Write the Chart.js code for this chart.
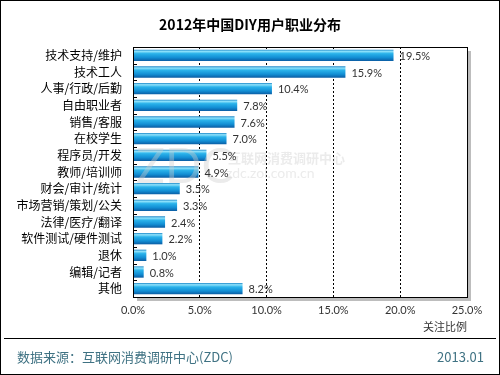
<!DOCTYPE html>
<html>
<head>
<meta charset="utf-8">
<script src="https://cdn.jsdelivr.net/npm/chart.js@4.4.1/dist/chart.umd.min.js"></script>
<style>
  html, body { margin: 0; padding: 0; background: #fff; }
  #wrap { position: relative; width: 500px; height: 375px; }
</style>
</head>
<body>
<div id="wrap"><canvas id="chart" width="500" height="375"></canvas></div>
<script>
const categories = ['技术支持/维护', '技术工人', '人事/行政/后勤', '自由职业者', '销售/客服', '在校学生',
  '程序员/开发', '教师/培训师', '财会/审计/统计', '市场营销/策划/公关', '法律/医疗/翻译',
  '软件测试/硬件测试', '退休', '编辑/记者', '其他'];
const shares = [19.5, 15.9, 10.4, 7.8, 7.6, 7.0, 5.5, 4.9, 3.5, 3.3, 2.4, 2.2, 1.0, 0.8, 8.2];
const xTicks = [0, 5, 10, 15, 20, 25];

const FONT = "Lato, 'Noto Sans CJK SC', sans-serif";
const CJK = "'Noto Sans CJK SC', sans-serif";
const BAR_PCT = 0.68;

// vertical gradient per bar, from the y scale
function barFill(ctx) {
  const chart = ctx.chart, sc = chart.scales.y;
  if (!sc || !chart.chartArea) return '#1a9ad6';
  const h = sc.height / categories.length * BAR_PCT;
  const top = sc.getPixelForValue(ctx.dataIndex) - h / 2;
  const g = chart.ctx.createLinearGradient(0, top, 0, top + h);
  g.addColorStop(0, '#1a86c8');
  g.addColorStop(0.15, '#8fe2fb');
  g.addColorStop(0.35, '#2ab2ea');
  g.addColorStop(0.7, '#128ed4');
  g.addColorStop(1, '#0a5ca3');
  return g;
}

const decor = {
  id: 'decor',
  beforeDraw(chart) {
    const c = chart.ctx, a = chart.chartArea;
    c.save();
    c.fillStyle = '#fff';
    c.fillRect(0, 0, 500, 375);
    c.fillStyle = '#bdbdbd';
    c.fillRect(a.left + 4, a.top + 4, a.right - a.left, a.bottom - a.top);
    c.fillStyle = '#fff';
    c.fillRect(a.left, a.top, a.right - a.left, a.bottom - a.top);
    c.restore();
  },
  afterDatasetsDraw(chart) {
    const c = chart.ctx, a = chart.chartArea, sc = chart.scales.y;
    c.save();
    // watermark
    c.fillStyle = 'rgba(205,205,205,0.4)';
    c.textBaseline = 'middle';
    c.font = '48px ' + FONT;
    c.fillText('ZDC', 136, 168);
    c.font = 'bold 13px ' + CJK;
    c.fillText('互联网消费调研中心', 228, 158);
    c.font = '14px ' + FONT;
    c.fillText('zdc.zol.com.cn', 226, 173);
    // value labels
    c.font = '11px ' + FONT;
    c.fillStyle = '#333';
    chart.getDatasetMeta(0).data.forEach((bar, i) => {
      c.fillText(shares[i].toFixed(1) + '%', bar.x + 6, bar.y + 1);
    });
    // inside ticks on the category boundaries
    c.strokeStyle = '#000';
    c.lineWidth = 1;
    const step = sc.height / categories.length;
    c.beginPath();
    for (let i = 1; i < categories.length; i++) {
      const y = Math.round(a.top + step * i) + 0.5;
      c.moveTo(a.left, y);
      c.lineTo(a.left + 4, y);
    }
    c.stroke();
    c.strokeRect(a.left + 0.5, a.top + 0.5, a.right - a.left, a.bottom - a.top);
    c.restore();
  },
  afterDraw(chart) {
    const c = chart.ctx;
    c.save();
    c.strokeStyle = '#000';
    c.lineWidth = 1;
    c.strokeRect(0.5, 0.5, 499, 374);
    c.beginPath();
    c.moveTo(4, 338.5);
    c.lineTo(496, 338.5);
    c.stroke();
    c.fillStyle = '#000';
    c.textAlign = 'center';
    c.textBaseline = 'middle';
    c.font = 'bold 14px ' + CJK;
    c.fillText('2012年中国DIY用户职业分布', 250, 25);
    c.fillStyle = '#3f7283';
    c.textAlign = 'left';
    c.font = '13px ' + CJK;
    c.fillText('数据来源：互联网消费调研中心(ZDC)', 17, 357);
    c.textAlign = 'right';
    c.fillText('2013.01', 484, 357);
    c.restore();
  }
};

new Chart(document.getElementById('chart'), {
  type: 'bar',
  data: {
    labels: categories,
    datasets: [{
      data: shares,
      backgroundColor: barFill,
      borderWidth: 0,
      categoryPercentage: 1,
      barPercentage: BAR_PCT
    }]
  },
  options: {
    indexAxis: 'y',
    responsive: false,
    animation: false,
    layout: { padding: { top: 47, right: 33, bottom: 35, left: 0 } },
    plugins: { legend: { display: false }, tooltip: { enabled: false } },
    scales: {
      x: {
        min: 0,
        max: 25,
        afterBuildTicks(axis) { axis.ticks = xTicks.map(v => ({ value: v })); },
        afterFit(axis) { axis.height = 43; },
        border: { display: false, dash: [2, 2] },
        grid: {
          color: ctx => (ctx.tick && (ctx.tick.value === 0 || ctx.tick.value === 25)) ? 'rgba(0,0,0,0)' : '#000',
          tickLength: 0
        },
        ticks: {
          color: '#333',
          font: { family: FONT, size: 11 },
          padding: 7,
          maxRotation: 0,
          callback: v => v.toFixed(1) + '%'
        },
        title: {
          display: true,
          text: '关注比例',
          align: 'end',
          color: '#333',
          font: { family: CJK, size: 11 },
          padding: { top: 0, bottom: 7 }
        }
      },
      y: {
        afterFit(axis) { axis.width = 133; },
        border: { display: false },
        grid: { display: false },
        ticks: {
          color: '#000',
          font: { family: CJK, size: 12 },
          padding: 3,
          autoSkip: false
        }
      }
    }
  },
  plugins: [decor]
});
</script>
</body>
</html>
